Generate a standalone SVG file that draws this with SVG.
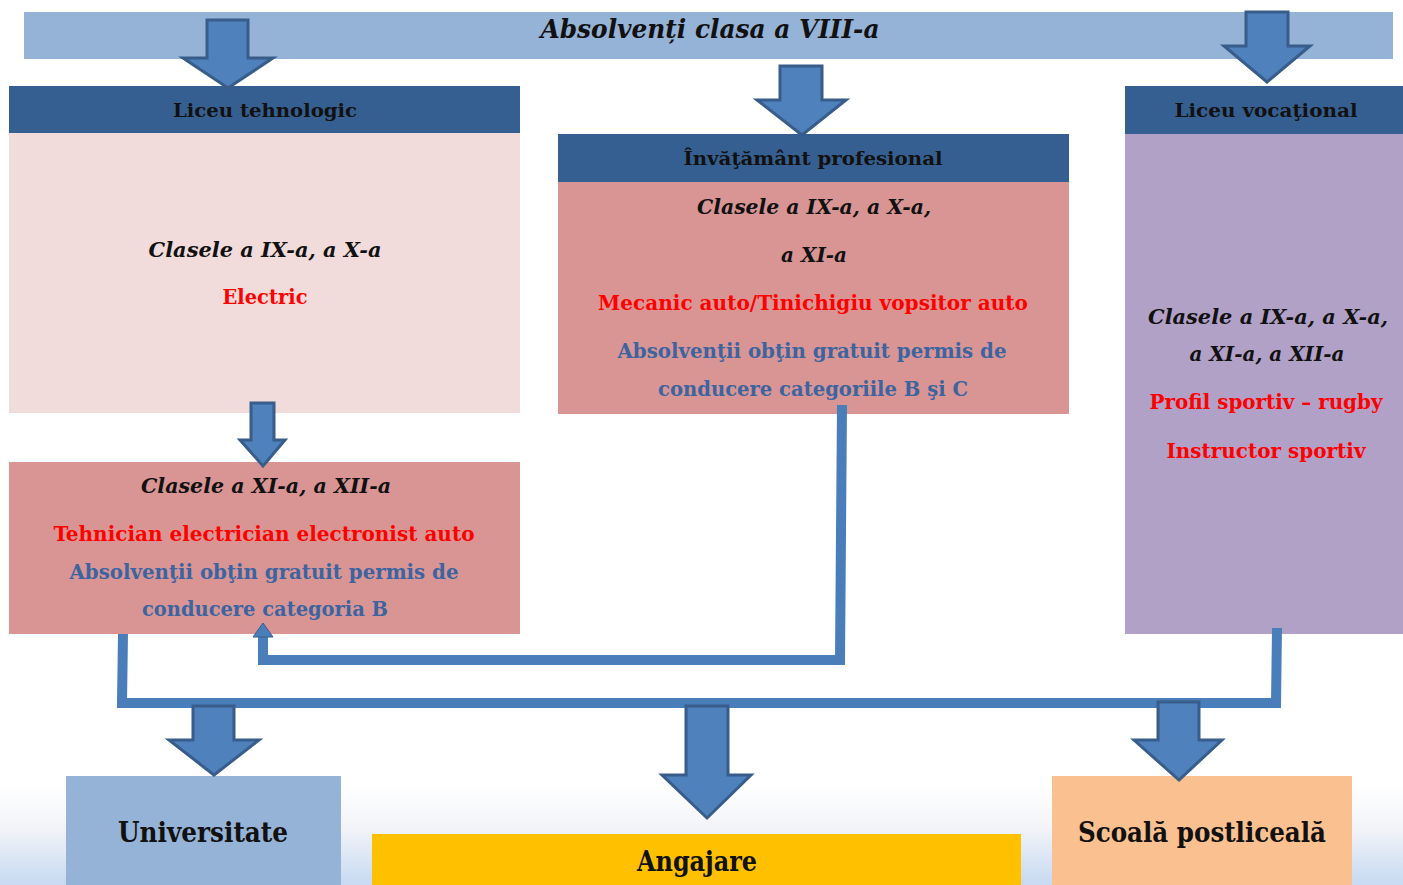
<svg xmlns="http://www.w3.org/2000/svg" width="1403" height="885" viewBox="0 0 1403 885">
<defs>
<linearGradient id="bg" x1="0" y1="0" x2="0" y2="1">
<stop offset="0" stop-color="#ffffff"/>
<stop offset="0.45" stop-color="#f1f3f8"/>
<stop offset="1" stop-color="#c6d9f1"/>
</linearGradient>
<style>
text{font-family:"DejaVu Serif","Liberation Serif",serif;font-weight:bold;text-anchor:middle;font-stretch:condensed}
.hd{font-size:19px;fill:#111}
.it{font-style:italic;font-size:20px;fill:#111}
.red{font-size:20px;fill:#ff0000}
.blu{font-size:20px;fill:#3b64a0}
.big{font-size:27px;fill:#111}
.arr{fill:#4f81bd;stroke:#385d8a;stroke-width:3;stroke-linejoin:miter}
.con{fill:none;stroke:#4a7ebb;stroke-width:10;stroke-linejoin:miter}
</style>
</defs>
<rect x="0" y="0" width="1403" height="885" fill="#ffffff"/>
<rect x="0" y="785" width="1403" height="100" fill="url(#bg)"/>

<g id="top">
<rect x="24" y="12" width="1369" height="47" fill="#95b3d7"/>
<text x="710" y="38" font-size="26" font-style="italic" fill="#111" textLength="339" lengthAdjust="spacingAndGlyphs">Absolvenți clasa a VIII-a</text>
</g>

<g id="liceu-tehnologic">
<rect x="9" y="86" width="511" height="47" fill="#365f91"/>
<text class="hd" x="265" y="117" textLength="184" lengthAdjust="spacingAndGlyphs">Liceu tehnologic</text>
<rect x="9" y="133" width="511" height="280" fill="#f2dcdb"/>
<text class="it" x="265" y="257" textLength="233" lengthAdjust="spacingAndGlyphs">Clasele a IX-a,  a X-a</text>
<text class="red" x="265" y="304" textLength="85" lengthAdjust="spacingAndGlyphs">Electric</text>
</g>

<g id="clase-xi-xii">
<rect x="9" y="462" width="511" height="172" fill="#d99594"/>
<text class="it" x="266" y="493" textLength="250" lengthAdjust="spacingAndGlyphs">Clasele a XI-a,  a XII-a</text>
<text class="red" x="264" y="541" textLength="421" lengthAdjust="spacingAndGlyphs">Tehnician electrician electronist auto</text>
<text class="blu" x="264" y="579" textLength="389" lengthAdjust="spacingAndGlyphs">Absolvenţii obţin gratuit permis de</text>
<text class="blu" x="265" y="616" textLength="246" lengthAdjust="spacingAndGlyphs">conducere categoria B</text>
</g>

<g id="invatamant-profesional">
<rect x="558" y="134" width="511" height="48" fill="#365f91"/>
<text class="hd" x="813" y="165" textLength="259" lengthAdjust="spacingAndGlyphs">Învăţământ profesional</text>
<rect x="558" y="182" width="511" height="232" fill="#d99594"/>
<text class="it" x="814" y="214" textLength="234" lengthAdjust="spacingAndGlyphs">Clasele a IX-a, a X-a,</text>
<text class="it" x="814" y="262" textLength="66" lengthAdjust="spacingAndGlyphs">a XI-a</text>
<text class="red" x="813" y="310" textLength="430" lengthAdjust="spacingAndGlyphs">Mecanic auto/Tinichigiu vopsitor auto</text>
<text class="blu" x="812" y="358" textLength="389" lengthAdjust="spacingAndGlyphs">Absolvenţii obţin gratuit permis de</text>
<text class="blu" x="813" y="396" textLength="310" lengthAdjust="spacingAndGlyphs">conducere categoriile B şi C</text>
</g>

<g id="liceu-vocational">
<rect x="1125" y="86" width="278" height="48" fill="#365f91"/>
<text class="hd" x="1266" y="117" textLength="183" lengthAdjust="spacingAndGlyphs">Liceu vocaţional</text>
<rect x="1125" y="134" width="278" height="500" fill="#b2a1c7"/>
<text class="it" x="1268" y="324" textLength="240" lengthAdjust="spacingAndGlyphs">Clasele a IX-a,  a X-a,</text>
<text class="it" x="1267" y="361" textLength="155" lengthAdjust="spacingAndGlyphs">a XI-a, a XII-a</text>
<text class="red" x="1266" y="409" textLength="233" lengthAdjust="spacingAndGlyphs">Profil sportiv – rugby</text>
<text class="red" x="1266" y="458" textLength="199" lengthAdjust="spacingAndGlyphs">Instructor sportiv</text>
</g>

<g id="universitate">
<rect x="66" y="776" width="275" height="109" fill="#95b3d7"/>
<text class="big" x="203" y="842" textLength="170" lengthAdjust="spacingAndGlyphs">Universitate</text>
</g>
<g id="angajare">
<rect x="372" y="834" width="649" height="51" fill="#ffc000"/>
<text class="big" x="697" y="871" textLength="120" lengthAdjust="spacingAndGlyphs">Angajare</text>
</g>
<g id="scoala-postliceala">
<rect x="1052" y="776" width="300" height="109" fill="#fac08f"/>
<text class="big" x="1202" y="842" textLength="248" lengthAdjust="spacingAndGlyphs">Scoală postliceală</text>
</g>

<g id="connectors">
<polyline class="con" points="842,405 840,660 263,660 263,634"/>
<polygon points="253,637 273,637 263,623" fill="#4a7ebb" stroke="#385d8a" stroke-width="1"/>
<polyline class="con" points="123,634 122,703 1276,703 1277,628"/>
<polygon class="arr" points="207,20 248,20 248,58 273,58 228,88 183,58 207,58"/>
<polygon class="arr" points="780,66 822,66 822,100 846,100 802,135 757,100 780,100"/>
<polygon class="arr" points="1246,12 1288,12 1288,46 1310,46 1267,82 1224,46 1246,46"/>
<polygon class="arr" points="251,403 274,403 274,440 285,440 263,466 240,440 251,440"/>
<polygon class="arr" points="193,706 234,706 234,740 259,740 214,775 169,740 193,740"/>
<polygon class="arr" points="686,706 728,706 728,775 751,775 707,818 662,775 686,775"/>
<polygon class="arr" points="1158,702 1199,702 1199,740 1222,740 1179,780 1134,740 1158,740"/>
</g>
</svg>
